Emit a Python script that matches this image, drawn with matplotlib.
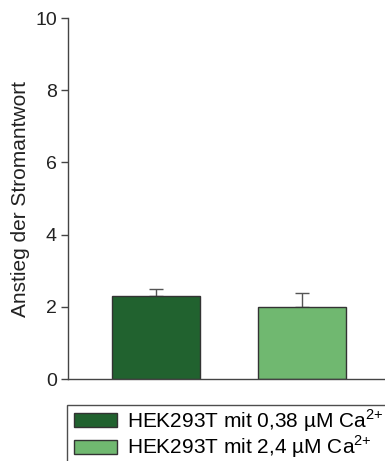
import matplotlib.pyplot as plt
import numpy as np
from matplotlib.legend_handler import HandlerPatch

groups = ["HEK293T mit 0,38 µM Ca$^{2{+}}$", "HEK293T mit 2,4 µM Ca$^{2{+}}$"]
means = [2.30, 1.99]
errors = [0.18, 0.39]
colors = ["#21622f", "#70b870"]

plt.rcParams["font.family"] = ["Liberation Sans", "DejaVu Sans"]
plt.rcParams["mathtext.fontset"] = "custom"
plt.rcParams["mathtext.rm"] = "Liberation Sans"

fig = plt.figure(figsize=(3.85, 4.61), dpi=100)
ax = fig.add_axes([68 / 385, 1 - 379 / 461, 1 - 68 / 385, (379 - 18) / 461])

x = np.arange(len(means))
bars = ax.bar(
    x,
    means,
    width=0.6,
    color=colors,
    edgecolor="#333333",
    linewidth=1,
    label=groups,
    zorder=2,
)
ax.errorbar(
    x,
    means,
    yerr=[np.zeros(len(errors)), errors],
    fmt="none",
    ecolor="#555555",
    elinewidth=1,
    capsize=5,
    capthick=1,
    zorder=1,
)

ax.set_xlim(-0.603, 1.568)
ax.set_ylim(0, 10)
ax.set_yticks([0, 2, 4, 6, 8, 10])
ax.set_xticks([])
ax.set_ylabel("Anstieg der Stromantwort", fontsize=15, color="#222222", labelpad=4)
ax.tick_params(axis="y", labelsize=14, length=5, width=1, color="#444444",
               labelcolor="#222222", pad=3)
for side in ["top", "right"]:
    ax.spines[side].set_visible(False)
for side in ["left", "bottom"]:
    ax.spines[side].set_color("#444444")
    ax.spines[side].set_linewidth(1)

# legend box runs off the right edge like in the original figure
leg = fig.legend(
    handles=list(bars),
    labels=groups,
    loc="upper left",
    bbox_to_anchor=(67 / 385, 1 - 405 / 461, 0.9, 0),
    mode="expand",
    fontsize=15,
    frameon=True,
    fancybox=False,
    edgecolor="#222222",
    borderpad=0.1,
    labelspacing=0.0,
    handlelength=2.3,
    handleheight=0.65,
    handletextpad=0.48,
    borderaxespad=0,
    handler_map={b: HandlerPatch(xpad=0.24) for b in bars},
)
leg.get_frame().set_linewidth(1)

fig.savefig("out.png", dpi=100)
